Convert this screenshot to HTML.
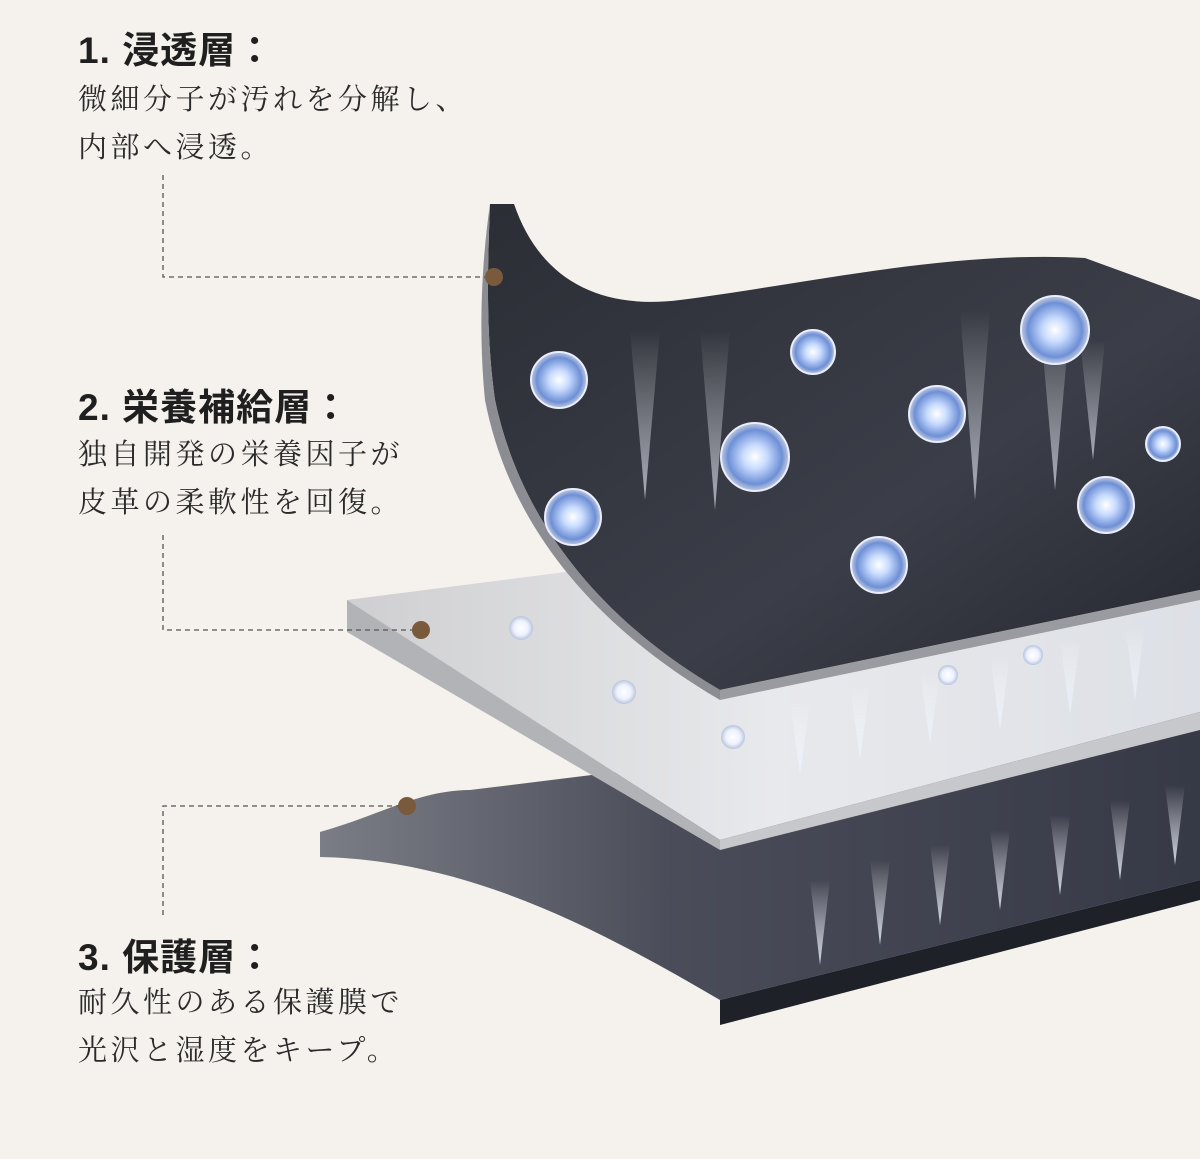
<!DOCTYPE html>
<html><head><meta charset="utf-8"><style>
body{margin:0;background:#f5f1ec;}
#w{position:relative;width:1200px;height:1159px;overflow:hidden;background:#f5f1ec;}
.t{position:absolute;left:78px;font-family:"Liberation Sans","Noto Sans CJK JP",sans-serif;font-size:37px;font-weight:bold;color:#1f1f1f;letter-spacing:1px;}
.b{position:absolute;left:78px;font-family:"Liberation Serif","Noto Serif CJK SC",serif;font-size:29px;color:#2a2a2a;line-height:48px;letter-spacing:3.5px;}
svg{position:absolute;left:0;top:0;}
</style></head><body><div id="w">
<svg width="1200" height="1159">
<defs>
<linearGradient id="dk" x1="0" y1="0" x2="1" y2="1"><stop offset="0" stop-color="#2c2e36"/><stop offset="0.6" stop-color="#3b3e48"/><stop offset="1" stop-color="#262830"/></linearGradient>
<linearGradient id="gr" x1="0" y1="0" x2="1" y2="0"><stop offset="0" stop-color="#cfcfd1"/><stop offset="0.5" stop-color="#e8e9ec"/><stop offset="1" stop-color="#dde0e6"/></linearGradient>
<linearGradient id="bt" x1="0" y1="0" x2="1" y2="0"><stop offset="0" stop-color="#7b7d86"/><stop offset="0.4" stop-color="#4a4d59"/><stop offset="1" stop-color="#363946"/></linearGradient>
<radialGradient id="sp"><stop offset="0" stop-color="#ffffff"/><stop offset="0.35" stop-color="#c9dcff"/><stop offset="0.8" stop-color="#6d8fd6"/><stop offset="1" stop-color="#dfe8ff" stop-opacity="0.8"/></radialGradient>
<radialGradient id="sm"><stop offset="0" stop-color="#fff"/><stop offset="0.6" stop-color="#eef2ff"/><stop offset="1" stop-color="#b8c4dc"/></radialGradient>
<linearGradient id="ar" x1="0" y1="0" x2="0" y2="1"><stop offset="0" stop-color="#fff" stop-opacity="0"/><stop offset="1" stop-color="#eaf1ff" stop-opacity="0.85"/></linearGradient>
</defs>
<path d="M320 832 C380 815 420 790 470 790 L1200 700 L1200 880 L720 1000 C600 930 470 860 320 857 Z" fill="url(#bt)"/>
<path d="M720 1000 L1200 880 L1200 900 L720 1025 Z" fill="#1f2128"/>
<g fill="url(#ar)">
<path d="M810 880 l20 0 l-10 85 z"/><path d="M870 860 l20 0 l-10 85 z"/><path d="M930 845 l20 0 l-10 80 z"/><path d="M990 830 l20 0 l-10 80 z"/><path d="M1050 815 l20 0 l-10 80 z"/><path d="M1110 800 l20 0 l-10 80 z"/><path d="M1165 785 l20 0 l-10 80 z"/>
</g>
<path d="M347 600 L620 565 L1200 530 L1200 712 L720 840 Z" fill="url(#gr)"/>
<path d="M347 600 L720 840 L720 850 L347 632 Z" fill="#b2b3b7"/>
<path d="M720 840 L1200 712 L1200 730 L720 850 Z" fill="#c7c8cc"/>
<g fill="url(#ar)" opacity="0.9">
<path d="M790 700 l20 0 l-10 75 z"/><path d="M850 685 l20 0 l-10 75 z"/><path d="M920 670 l20 0 l-10 75 z"/><path d="M990 655 l20 0 l-10 75 z"/><path d="M1060 640 l20 0 l-10 75 z"/><path d="M1125 625 l20 0 l-10 75 z"/>
</g>
<g fill="url(#sm)"><circle cx="521" cy="628" r="12"/><circle cx="624" cy="692" r="12"/><circle cx="733" cy="737" r="12"/><circle cx="948" cy="675" r="10"/><circle cx="1033" cy="655" r="10"/></g>
<path d="M490 204 L514 204 C540 280 600 310 680 300 C800 285 950 250 1085 258 L1200 300 L1200 590 L720 690 C600 620 520 520 495 400 C485 330 488 260 490 204 Z" fill="url(#dk)"/>
<path d="M490 204 C488 260 485 330 495 400 C520 520 600 620 720 690 L720 700 C600 630 510 530 485 400 C478 330 482 260 490 204 Z" fill="#8c8d92"/>
<path d="M720 690 L1200 590 L1200 600 L720 700 Z" fill="#9a9ba0"/>
<g fill="url(#ar)" opacity="0.75">
<path d="M630 330 l30 0 l-15 170 z"/><path d="M700 330 l30 0 l-15 180 z"/><path d="M960 310 l30 0 l-15 190 z"/><path d="M1040 320 l30 0 l-15 170 z"/><path d="M1080 340 l25 0 l-12 120 z"/>
</g>
<g fill="url(#sp)" stroke="#e8eeff" stroke-width="2">
<circle cx="559" cy="380" r="28"/><circle cx="813" cy="352" r="22"/><circle cx="1055" cy="330" r="34"/><circle cx="937" cy="414" r="28"/><circle cx="755" cy="457" r="34"/><circle cx="1163" cy="444" r="17"/><circle cx="573" cy="517" r="28"/><circle cx="1106" cy="505" r="28"/><circle cx="879" cy="565" r="28"/>
</g>
<g stroke="#555" stroke-width="1.3" stroke-dasharray="5,4" fill="none">
<path d="M163 175 V277 H490"/><path d="M163 535 V630 H418"/><path d="M163 915 V806 H403"/>
</g>
<g fill="#7a5a3c"><circle cx="494" cy="277" r="9"/><circle cx="421" cy="630" r="9"/><circle cx="407" cy="806" r="9"/></g>
</svg>
<div class="t" style="top:20px">1. 浸透層：</div>
<div class="b" style="top:76px">微細分子が汚れを分解し、<br>内部へ浸透。</div>
<div class="t" style="top:377px">2. 栄養補給層：</div>
<div class="b" style="top:431px">独自開発の栄養因子が<br>皮革の柔軟性を回復。</div>
<div class="t" style="top:927px">3. 保護層：</div>
<div class="b" style="top:979px">耐久性のある保護膜で<br>光沢と湿度をキープ。</div>
</div></body></html>
